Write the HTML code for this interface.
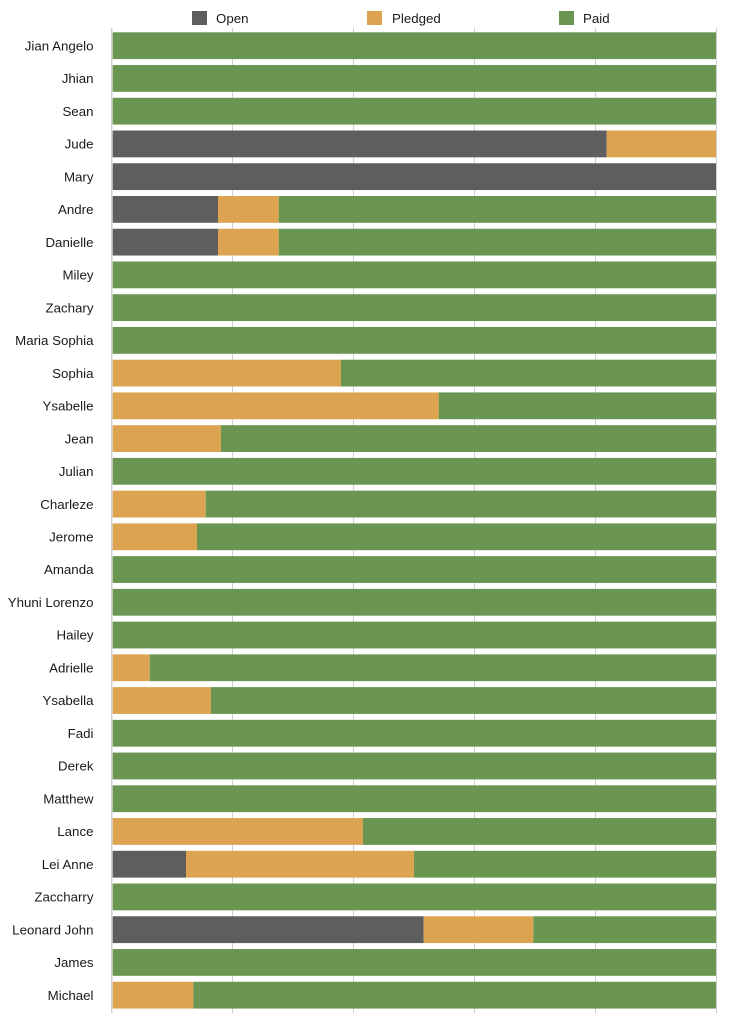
<!DOCTYPE html>
<html><head><meta charset="utf-8"><style>
html,body{margin:0;padding:0;background:#fff;}
svg{display:block;}
text{font-family:"Liberation Sans",Arial,sans-serif;font-size:13.3px;fill:#1a1a1a;}
</style></head><body>
<svg width="729" height="1024" viewBox="0 0 729 1024" xmlns="http://www.w3.org/2000/svg">
<!-- legend -->
<rect x="192" y="11" width="15" height="14" fill="#5e5e5e"/>
<text x="216" y="23">Open</text>
<rect x="367" y="11" width="15" height="14" fill="#dca450"/>
<text x="392" y="23">Pledged</text>
<rect x="559" y="11" width="15" height="14" fill="#6a9651"/>
<text x="583" y="23">Paid</text>
<!-- gridlines -->
<g stroke="#cfcfcf" stroke-width="1">
<line x1="232.5" y1="28" x2="232.5" y2="1013"/>
<line x1="353.5" y1="28" x2="353.5" y2="1013"/>
<line x1="474.5" y1="28" x2="474.5" y2="1013"/>
<line x1="595.5" y1="28" x2="595.5" y2="1013"/>
<line x1="716.5" y1="28" x2="716.5" y2="1013"/>
</g>
<line x1="111.8" y1="28" x2="111.8" y2="1013" stroke="#c4c4c4" stroke-width="1.2"/>
<g id="bars"></g>
<g id="labels" text-anchor="end"></g>
<script>
var rows=[["Jian Angelo",0,0],["Jhian",0,0],["Sean",0,0],["Jude",606.7,716],["Mary",716,716],["Andre",218,278.7],["Danielle",218,278.7],["Miley",0,0],["Zachary",0,0],["Maria Sophia",0,0],["Sophia",0,341],["Ysabelle",0,438.7],["Jean",0,221],["Julian",0,0],["Charleze",0,205.7],["Jerome",0,197],["Amanda",0,0],["Yhuni Lorenzo",0,0],["Hailey",0,0],["Adrielle",0,149.7],["Ysabella",0,211],["Fadi",0,0],["Derek",0,0],["Matthew",0,0],["Lance",0,363],["Lei Anne",186,414],["Zaccharry",0,0],["Leonard John",423.7,533.3],["James",0,0],["Michael",0,193.3]];
var ns="http://www.w3.org/2000/svg",B=document.getElementById("bars"),L=document.getElementById("labels");
var x0=112.7,x1=716;
function r(x,y,w,h,c){var e=document.createElementNS(ns,"rect");e.setAttribute("x",x);e.setAttribute("y",y);e.setAttribute("width",w);e.setAttribute("height",h);e.setAttribute("fill",c);B.appendChild(e);}
rows.forEach(function(d,i){
 var y=32.3+i*32.74,h=26.8;
 var g=d[1]>0?d[1]:x0, o=d[2]>0?d[2]:g;
 if(g>x0) r(x0,y,g-x0,h,"#5e5e5e");
 if(o>g) r(g,y,o-g,h,"#dca450");
 if(x1>o) r(o,y,x1-o,h,"#6a9651");
 var t=document.createElementNS(ns,"text");t.setAttribute("x",93.5);t.setAttribute("y",y+h/2+4.7);t.textContent=d[0];L.appendChild(t);
});
</script>
</svg>
</body></html>
